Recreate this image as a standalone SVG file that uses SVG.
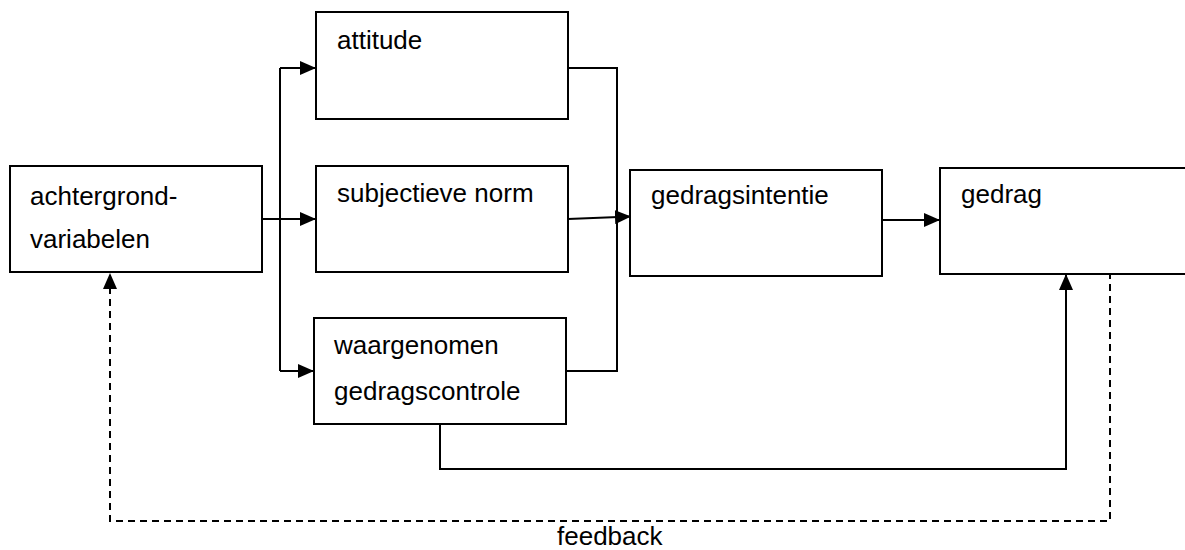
<svg xmlns="http://www.w3.org/2000/svg" width="1185" height="550" viewBox="0 0 1185 550">
<style>
.box{fill:#fff;stroke:#000;stroke-width:2}
.lbl{font-family:"Liberation Sans",Arial,sans-serif;font-size:26px;fill:#000}
.ln{fill:none;stroke:#000;stroke-width:2}
.dash{fill:none;stroke:#000;stroke-width:2;stroke-dasharray:7 5}
</style>
<defs>
<marker id="ah" markerUnits="userSpaceOnUse" markerWidth="16" markerHeight="14" refX="16" refY="7" orient="auto">
<path d="M0,0 L16,7 L0,14 Z" fill="#000"/>
</marker>
</defs>
<g id="connectors">
<polyline class="ln" points="262,219 280,219"/>
<polyline class="ln" points="280,68 280,371"/>
<polyline class="ln" points="280,68 316,68" marker-end="url(#ah)"/>
<polyline class="ln" points="280,219 316,219" marker-end="url(#ah)"/>
<polyline class="ln" points="280,371 314,371" marker-end="url(#ah)"/>
<polyline class="ln" points="568,68 617,68 617,371 566,371"/>
<line class="ln" x1="568" y1="219" x2="631" y2="216.5" marker-end="url(#ah)"/>
<line class="ln" x1="882" y1="220" x2="940" y2="220" marker-end="url(#ah)"/>
<polyline class="ln" points="440,424 440,469 1066,469 1066,274" marker-end="url(#ah)"/>
<polyline class="dash" points="1110,272 1110,521 110,521 110,273" marker-end="url(#ah)"/>
<text class="lbl" x="557" y="545">feedback</text>
</g>
<g id="achtergrond">
<rect class="box" x="10" y="166" width="252" height="106"/>
<text class="lbl" x="30" y="205">achtergrond-</text>
<text class="lbl" x="30" y="248">variabelen</text>
</g>
<g id="attitude">
<rect class="box" x="316" y="12" width="252" height="107"/>
<text class="lbl" x="337" y="49">attitude</text>
</g>
<g id="subjectieve-norm">
<rect class="box" x="316" y="166" width="252" height="106"/>
<text class="lbl" x="337" y="202">subjectieve norm</text>
</g>
<g id="waargenomen">
<rect class="box" x="314" y="318" width="252" height="106"/>
<text class="lbl" x="334" y="354">waargenomen</text>
<text class="lbl" x="334" y="400">gedragscontrole</text>
</g>
<g id="gedragsintentie">
<rect class="box" x="630" y="170" width="252" height="106"/>
<text class="lbl" x="651" y="204">gedragsintentie</text>
</g>
<g id="gedrag">
<rect class="box" x="940" y="168" width="260" height="106"/>
<text class="lbl" x="961" y="203">gedrag</text>
</g>
</svg>
